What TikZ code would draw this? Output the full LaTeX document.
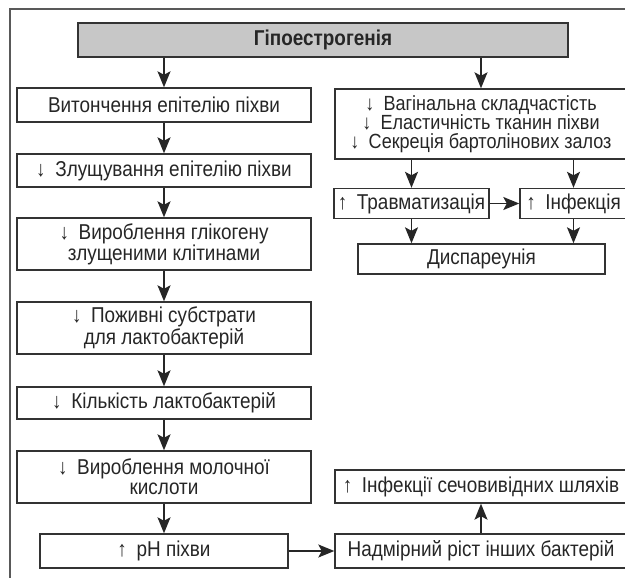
\documentclass[tikz,border=0pt]{standalone}
\usepackage{fontspec}
\setmainfont{Liberation Sans}[FakeStretch=0.88]
\usetikzlibrary{arrows.meta}
\newcommand\dnar{↓\hspace{0.45em}}
\newcommand\upar{↑\hspace{0.45em}}

\begin{document}
\begin{tikzpicture}[x=1pt,y=-1pt,
	every node/.style={font=\fontsize{21.5}{20}\selectfont, text=black!85},
	box/.style={draw=black!80, line width=1.4pt, fill=white, align=center, inner sep=0pt},
	lbox/.style={box, minimum width=294pt},
	rbox/.style={box, minimum width=292pt},
	arr/.style={-{Stealth[length=16pt,width=13pt,inset=3.5pt]}, line width=1.4pt, draw=black!85}]
    \useasboundingbox (0,0) rectangle (625,578);
    \draw[line width=2pt, black!65] (10,582) -- (10,9) -- (630,9);

    \node[box, fill=black!22, minimum width=490pt, minimum height=34pt, font=\fontsize{21.5}{20}\bfseries] (hypo) at (323,40) {Гіпоестрогенія};

    % left column
    \node[lbox, minimum height=34pt] (thin) at (164,105) {Витончення епітелію піхви};
    \node[lbox, minimum height=33pt] (desq) at (164,170.5) {\dnar Злущування епітелію піхви};
    \node[lbox, minimum height=52pt] (glyc) at (164,244) {\dnar Вироблення глікогену\\злущеними клітинами};
    \node[lbox, minimum height=52pt] (subs) at (164,328) {\dnar Поживні субстрати\\для лактобактерій};
    \node[lbox, minimum height=32pt] (lacto) at (164,403) {\dnar Кількість лактобактерій};
    \node[lbox, minimum height=52pt] (acid) at (164,477) {\dnar Вироблення молочної\\кислоти};
    \node[box, minimum width=248pt, minimum height=34pt] (ph) at (164,551) {\upar pH піхви};

    % right column
    \node[rbox, minimum height=70pt, font=\fontsize{20.5}{19}\selectfont] (vag) at (481,124) {\dnar Вагінальна складчастість\\\dnar Еластичність тканин піхви\\\dnar Секреція бартолінових залоз};
    \node[box, minimum width=155pt, minimum height=30pt] (trauma) at (411.5,203.5) {\upar Травматизація};
    \node[box, minimum width=107pt, minimum height=30pt] (infect) at (573.5,203.5) {\upar Інфекція};
    \node[box, minimum width=247pt, minimum height=30pt] (dysp) at (481.5,259) {Диспареунія};
    \node[rbox, minimum height=33pt] (uti) at (481,486.5) {\upar Інфекції сечовивідних шляхів};
    \node[rbox, minimum height=34pt] (bact) at (481,551) {Надмірний ріст інших бактерій};

    \draw[arr] (hypo.south -| thin) -- (thin.north);
    \draw[arr] (hypo.south -| vag) -- (vag.north);
    \draw[arr] (thin) -- (desq);
    \draw[arr] (desq) -- (glyc);
    \draw[arr] (glyc) -- (subs);
    \draw[arr] (subs) -- (lacto);
    \draw[arr] (lacto) -- (acid);
    \draw[arr] (acid) -- (ph);
    \draw[arr] (ph) -- (bact);
    \draw[arr] (bact) -- (uti);
    \draw[arr] (vag.south -| trauma) -- (trauma.north);
    \draw[arr] (vag.south -| infect) -- (infect.north);
    \draw[arr] (trauma) -- (infect);
    \draw[arr] (trauma.south) -- (dysp.north -| trauma);
    \draw[arr] (infect.south) -- (dysp.north -| infect);
\end{tikzpicture}
\end{document}
